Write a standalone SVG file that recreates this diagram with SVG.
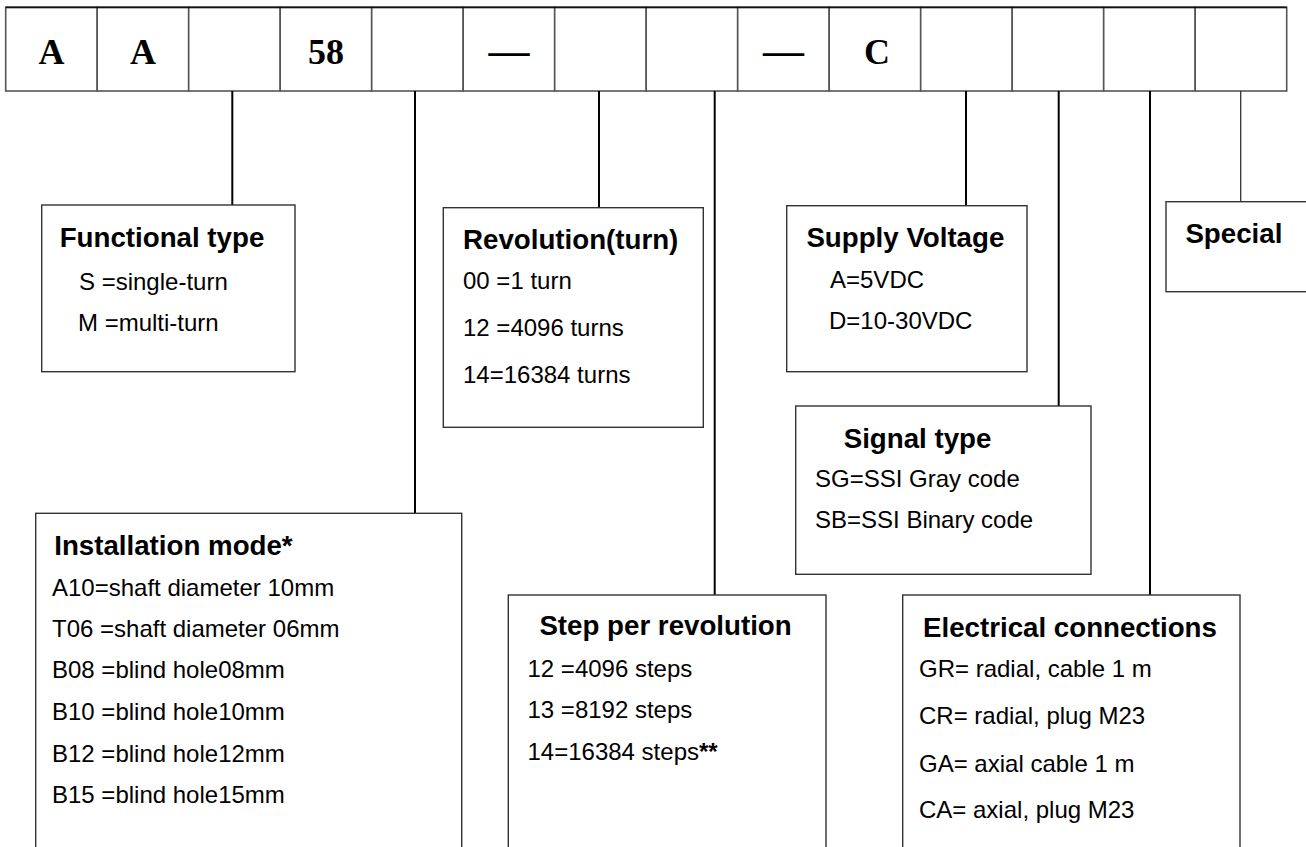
<svg xmlns="http://www.w3.org/2000/svg" width="1306" height="847" viewBox="0 0 1306 847">
<style>
.cell{fill:#fff;stroke:#555;stroke-width:1.6}
.code{font-family:"Liberation Serif","Times New Roman",serif;font-weight:bold;font-size:36px;fill:#000;text-anchor:middle}
.dash{font-family:"Liberation Serif","Times New Roman",serif;font-weight:bold;font-size:41px;fill:#000;text-anchor:middle}
.box{fill:#fff;stroke:#333;stroke-width:1.4}
.title{font-family:"Liberation Sans",Arial,sans-serif;font-weight:bold;font-size:27.7px;fill:#000}
.body{font-family:"Liberation Sans",Arial,sans-serif;font-size:24px;fill:#000}
.conn{stroke:#000;stroke-width:2;fill:none}
</style>
<rect width="1306" height="847" fill="#fff"/>
<g id="code-row">
<rect class="cell" x="5.7" y="7.3" width="91.5" height="83.7"/>
<rect class="cell" x="97.2" y="7.3" width="91.5" height="83.7"/>
<rect class="cell" x="188.7" y="7.3" width="91.5" height="83.7"/>
<rect class="cell" x="280.2" y="7.3" width="91.5" height="83.7"/>
<rect class="cell" x="371.7" y="7.3" width="91.5" height="83.7"/>
<rect class="cell" x="463.2" y="7.3" width="91.5" height="83.7"/>
<rect class="cell" x="554.7" y="7.3" width="91.5" height="83.7"/>
<rect class="cell" x="646.2" y="7.3" width="91.5" height="83.7"/>
<rect class="cell" x="737.7" y="7.3" width="91.5" height="83.7"/>
<rect class="cell" x="829.2" y="7.3" width="91.5" height="83.7"/>
<rect class="cell" x="920.7" y="7.3" width="91.5" height="83.7"/>
<rect class="cell" x="1012.2" y="7.3" width="91.5" height="83.7"/>
<rect class="cell" x="1103.7" y="7.3" width="91.5" height="83.7"/>
<rect class="cell" x="1195.2" y="7.3" width="91.5" height="83.7"/>
<line x1="5.7" y1="7.3" x2="1286.7" y2="7.3" stroke="#111" stroke-width="1.8"/>
<text class="code" x="51.5" y="64">A</text>
<text class="code" x="143" y="64">A</text>
<text class="code" x="326" y="64">58</text>
<text class="dash" x="509" y="64">—</text>
<text class="dash" x="783.5" y="64">—</text>
<text class="code" x="877" y="64">C</text>
</g>
<g id="connectors">
<line class="conn" x1="232.3" y1="91" x2="232.3" y2="205"/>
<line class="conn" x1="415" y1="91" x2="415" y2="513.3"/>
<line class="conn" x1="599" y1="91" x2="599" y2="207.7"/>
<line class="conn" x1="714.7" y1="91" x2="714.7" y2="595"/>
<line class="conn" x1="966" y1="91" x2="966" y2="205.7"/>
<line class="conn" x1="1058.7" y1="91" x2="1058.7" y2="406"/>
<line class="conn" x1="1150" y1="91" x2="1150" y2="595"/>
<line x1="1240.7" y1="91" x2="1240.7" y2="201.7" stroke="#333" stroke-width="1.3"/>
</g>
<g id="functional-type">
<rect class="box" x="41.7" y="205" width="253.3" height="166.7"/>
<text class="title" x="59.7" y="246.7">Functional type</text>
<text class="body" x="79" y="290">S =single-turn</text>
<text class="body" x="78" y="331">M =multi-turn</text>
</g>
<g id="revolution">
<rect class="box" x="443.3" y="207.7" width="260" height="219.6"/>
<text class="title" x="463" y="249.3">Revolution(turn)</text>
<text class="body" x="463" y="289.3">00 =1 turn</text>
<text class="body" x="463" y="336">12 =4096 turns</text>
<text class="body" x="463" y="382.7">14=16384 turns</text>
</g>
<g id="supply-voltage">
<rect class="box" x="786.7" y="205.7" width="240.3" height="166"/>
<text class="title" x="806.4" y="247.3">Supply Voltage</text>
<text class="body" x="830" y="288.3">A=5VDC</text>
<text class="body" x="829" y="329.3">D=10-30VDC</text>
</g>
<g id="special">
<rect class="box" x="1166" y="201.7" width="150" height="90"/>
<text class="title" x="1185.4" y="243.3">Special</text>
</g>
<g id="signal-type">
<rect class="box" x="795.7" y="406" width="295.3" height="168.3"/>
<text class="title" x="843.7" y="448.3">Signal type</text>
<text class="body" x="815" y="486.7">SG=SSI Gray code</text>
<text class="body" x="815" y="528.3">SB=SSI Binary code</text>
</g>
<g id="installation-mode">
<rect class="box" x="35.7" y="513.3" width="426" height="350"/>
<text class="title" x="54.2" y="555">Installation mode*</text>
<text class="body" x="52" y="595.7">A10=shaft diameter 10mm</text>
<text class="body" x="52" y="636.7">T06 =shaft diameter 06mm</text>
<text class="body" x="52" y="678.3">B08 =blind hole08mm</text>
<text class="body" x="52" y="720">B10 =blind hole10mm</text>
<text class="body" x="52" y="761.7">B12 =blind hole12mm</text>
<text class="body" x="52" y="803.3">B15 =blind hole15mm</text>
</g>
<g id="step-per-revolution">
<rect class="box" x="508.3" y="595" width="317.7" height="270"/>
<text class="title" x="539.4" y="635">Step per revolution</text>
<text class="body" x="527.5" y="677.3">12 =4096 steps</text>
<text class="body" x="527.5" y="718.3">13 =8192 steps</text>
<text class="body" x="527.5" y="760">14=16384 steps<tspan font-weight="bold">**</tspan></text>
</g>
<g id="electrical-connections">
<rect class="box" x="902.7" y="595" width="337.3" height="270"/>
<text class="title" x="923" y="636.7">Electrical connections</text>
<text class="body" x="919" y="677.3">GR= radial, cable 1 m</text>
<text class="body" x="919" y="724">CR= radial, plug M23</text>
<text class="body" x="919" y="771.7">GA= axial cable 1 m</text>
<text class="body" x="919" y="818.3">CA= axial, plug M23</text>
</g>
</svg>
